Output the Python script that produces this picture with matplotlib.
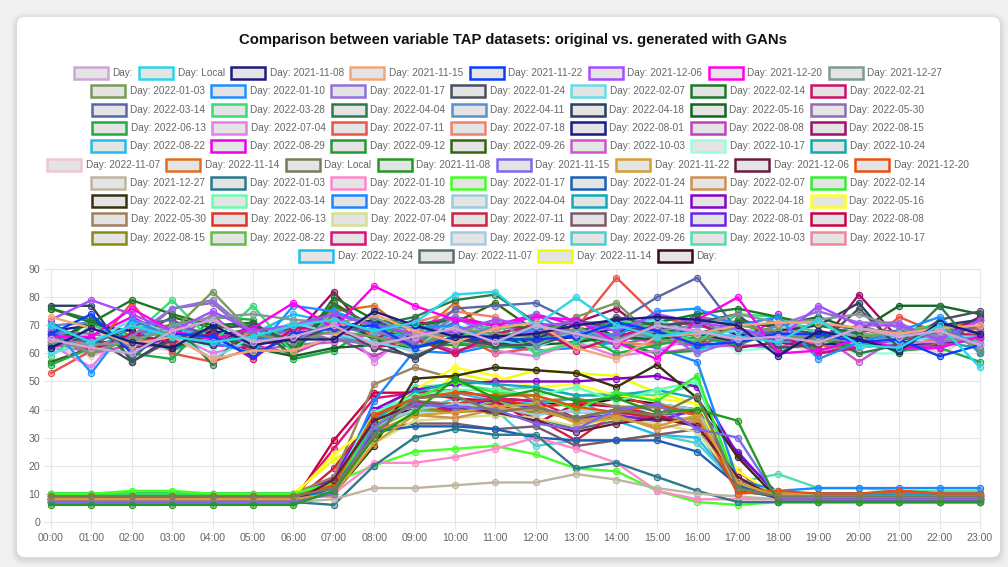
import matplotlib.pyplot as plt
from matplotlib.patches import FancyBboxPatch, Rectangle
from matplotlib.transforms import Affine2D
from matplotlib.colors import to_rgba

plt.rcParams['font.family'] = ['Liberation Sans', 'DejaVu Sans']

W, H = 1008, 567

title = "Comparison between variable TAP datasets: original vs. generated with GANs"

hours = ["00:00", "01:00", "02:00", "03:00", "04:00", "05:00", "06:00", "07:00",
         "08:00", "09:00", "10:00", "11:00", "12:00", "13:00", "14:00", "15:00",
         "16:00", "17:00", "18:00", "19:00", "20:00", "21:00", "22:00", "23:00"]

dates = ["2021-11-08", "2021-11-15", "2021-11-22", "2021-12-06", "2021-12-20", "2021-12-27",
         "2022-01-03", "2022-01-10", "2022-01-17", "2022-01-24", "2022-02-07", "2022-02-14",
         "2022-02-21", "2022-03-14", "2022-03-28", "2022-04-04", "2022-04-11", "2022-04-18",
         "2022-05-16", "2022-05-30", "2022-06-13", "2022-07-04", "2022-07-11", "2022-07-18",
         "2022-08-01", "2022-08-08", "2022-08-15", "2022-08-22", "2022-08-29", "2022-09-12",
         "2022-09-26", "2022-10-03", "2022-10-17", "2022-10-24", "2022-11-07", "2022-11-14"]

original_labels = ["Day:", "Day: Local"] + ["Day: " + d for d in dates]
generated_labels = ["Day: Local"] + ["Day: " + d for d in dates] + ["Day:"]

# original data (flat band)
original_values = [
    [65, 62, 60, 68, 72, 64, 66, 70, 63, 66, 69, 64, 70, 67, 64, 70, 68, 65, 66, 64, 69, 66, 68, 63],
    [70, 64, 70, 66, 64, 66, 70, 72, 68, 71, 81, 82, 70, 80, 70, 66, 68, 66, 64, 72, 63, 62, 70, 55],
    [62, 69, 64, 62, 70, 63, 65, 65, 75, 70, 66, 66, 67, 70, 72, 73, 72, 70, 59, 68, 65, 61, 71, 67],
    [73, 69, 63, 66, 58, 61, 61, 66, 74, 68, 64, 69, 71, 62, 58, 66, 67, 70, 71, 71, 69, 67, 69, 70],
    [67, 74, 60, 67, 66, 59, 67, 69, 70, 62, 66, 65, 65, 66, 71, 68, 63, 64, 67, 67, 64, 65, 59, 63],
    [72, 79, 74, 68, 75, 68, 70, 74, 70, 67, 68, 72, 70, 71, 68, 74, 71, 69, 65, 77, 70, 70, 65, 72],
    [66, 66, 76, 68, 65, 69, 78, 69, 84, 77, 72, 70, 73, 72, 64, 58, 72, 80, 60, 61, 65, 62, 62, 66],
    [64, 63, 64, 70, 73, 74, 72, 71, 73, 66, 67, 72, 63, 69, 65, 68, 70, 74, 71, 72, 74, 69, 66, 63],
    [66, 60, 65, 68, 82, 67, 64, 68, 66, 62, 69, 67, 66, 73, 78, 65, 64, 70, 68, 64, 66, 67, 70, 61],
    [70, 53, 72, 66, 64, 60, 77, 75, 70, 69, 70, 65, 69, 68, 66, 75, 76, 70, 73, 58, 64, 68, 73, 60],
    [69, 60, 66, 76, 79, 67, 64, 72, 68, 64, 73, 66, 68, 67, 65, 69, 60, 65, 70, 75, 71, 71, 64, 66],
    [63, 66, 57, 65, 69, 70, 64, 70, 62, 59, 65, 63, 63, 67, 73, 70, 71, 74, 62, 63, 76, 62, 72, 75],
    [60, 64, 72, 67, 58, 66, 71, 67, 64, 61, 73, 65, 62, 68, 69, 72, 67, 68, 69, 72, 62, 64, 66, 66],
    [76, 71, 79, 74, 70, 71, 59, 80, 72, 70, 72, 70, 69, 67, 70, 71, 74, 76, 73, 70, 67, 60, 72, 61],
    [67, 61, 67, 64, 67, 58, 69, 69, 62, 65, 60, 67, 70, 61, 66, 70, 71, 64, 67, 60, 62, 64, 68, 66],
    [71, 63, 70, 72, 65, 66, 64, 69, 68, 63, 76, 77, 78, 71, 71, 80, 87, 68, 67, 67, 68, 68, 66, 70],
    [59, 70, 66, 79, 64, 77, 60, 75, 69, 71, 65, 71, 60, 64, 72, 69, 64, 74, 73, 67, 66, 68, 70, 64],
    [76, 72, 58, 71, 56, 71, 62, 77, 70, 73, 79, 81, 71, 68, 71, 70, 71, 74, 60, 67, 60, 63, 77, 60],
    [70, 71, 62, 68, 72, 64, 70, 67, 62, 68, 73, 68, 74, 66, 67, 66, 70, 68, 64, 65, 66, 65, 67, 63],
    [77, 77, 57, 66, 63, 70, 64, 74, 65, 58, 66, 63, 65, 72, 68, 69, 67, 64, 68, 70, 78, 61, 70, 72],
    [63, 72, 64, 62, 67, 62, 59, 62, 63, 62, 65, 65, 63, 64, 66, 65, 67, 71, 70, 73, 68, 77, 77, 74],
    [68, 67, 64, 76, 78, 66, 68, 65, 63, 68, 64, 70, 67, 68, 66, 69, 73, 71, 67, 66, 70, 66, 65, 68],
    [56, 62, 60, 58, 73, 72, 58, 61, 70, 66, 64, 62, 63, 68, 60, 63, 66, 63, 68, 61, 64, 61, 62, 57],
    [63, 55, 72, 67, 60, 64, 68, 74, 57, 69, 70, 61, 59, 64, 59, 61, 66, 65, 70, 68, 66, 64, 64, 72],
    [53, 61, 78, 60, 57, 62, 69, 71, 68, 64, 67, 60, 62, 69, 87, 73, 70, 68, 67, 63, 61, 73, 67, 69],
    [65, 63, 65, 63, 65, 67, 64, 73, 66, 71, 75, 73, 66, 70, 64, 63, 66, 64, 70, 65, 68, 63, 65, 64],
    [68, 70, 68, 62, 68, 66, 69, 69, 72, 65, 67, 66, 64, 66, 69, 68, 70, 67, 65, 63, 64, 63, 64, 65],
    [62, 65, 67, 70, 67, 63, 60, 66, 59, 65, 61, 64, 71, 65, 66, 64, 63, 67, 64, 66, 63, 64, 62, 72],
    [67, 65, 62, 64, 68, 60, 66, 82, 65, 72, 67, 63, 62, 71, 76, 65, 74, 62, 64, 62, 81, 65, 66, 73],
    [69, 63, 66, 69, 66, 67, 74, 71, 66, 67, 70, 63, 65, 66, 67, 73, 61, 66, 67, 65, 67, 66, 71, 67],
    [64, 66, 73, 66, 63, 62, 68, 67, 71, 70, 73, 70, 74, 70, 63, 71, 68, 62, 74, 60, 63, 62, 65, 73],
    [61, 72, 66, 63, 66, 69, 62, 72, 65, 63, 63, 63, 66, 68, 64, 60, 61, 72, 66, 65, 62, 64, 64, 65],
    [57, 62, 65, 73, 69, 71, 61, 78, 69, 65, 71, 78, 68, 72, 66, 67, 63, 72, 69, 67, 65, 62, 63, 67],
    [64, 60, 63, 64, 74, 61, 63, 64, 67, 62, 68, 67, 66, 73, 64, 60, 62, 63, 62, 67, 57, 66, 62, 68],
    [65, 64, 63, 66, 62, 67, 62, 66, 65, 72, 70, 67, 72, 64, 62, 63, 67, 61, 62, 64, 60, 60, 66, 66],
    [66, 62, 67, 61, 67, 65, 67, 65, 67, 72, 67, 64, 66, 67, 63, 66, 66, 65, 70, 66, 63, 67, 64, 62],
    [62, 59, 63, 61, 65, 66, 69, 67, 66, 60, 64, 68, 60, 65, 67, 64, 66, 63, 63, 61, 65, 66, 60, 67],
    [65, 61, 69, 70, 66, 68, 70, 75, 77, 66, 78, 65, 67, 63, 62, 64, 63, 72, 69, 70, 69, 65, 69, 72],
]

# generated data (daytime bump)
generated_values = [
    [9, 9, 9, 9, 9, 9, 9, 12, 31, 44, 45, 39, 41, 37, 40, 38, 45, 12, 9, 9, 9, 9, 9, 9],
    [6, 6, 6, 6, 6, 6, 6, 11, 30, 39, 51, 44, 47, 43, 44, 39, 40, 36, 7, 7, 7, 7, 7, 7],
    [7, 7, 7, 7, 7, 7, 7, 10, 34, 42, 41, 40, 35, 33, 40, 42, 33, 30, 8, 8, 8, 8, 8, 8],
    [8, 8, 8, 8, 8, 8, 8, 10, 28, 38, 39, 41, 42, 35, 37, 34, 38, 14, 9, 9, 9, 9, 9, 9],
    [7, 7, 7, 7, 7, 7, 7, 15, 36, 42, 41, 39, 36, 32, 35, 37, 34, 16, 8, 8, 8, 8, 8, 8],
    [9, 9, 9, 9, 9, 9, 9, 13, 38, 44, 46, 45, 45, 41, 39, 42, 38, 10, 11, 10, 10, 11, 10, 10],
    [7, 7, 7, 7, 7, 7, 7, 8, 12, 12, 13, 14, 14, 17, 15, 12, 10, 9, 8, 7, 7, 7, 7, 7],
    [7, 7, 7, 7, 7, 7, 7, 6, 20, 30, 33, 31, 31, 19, 21, 16, 11, 7, 7, 7, 7, 7, 7, 7],
    [8, 8, 8, 8, 8, 8, 8, 10, 21, 21, 23, 26, 30, 26, 21, 11, 8, 8, 8, 8, 8, 8, 8, 8],
    [10, 10, 11, 11, 10, 10, 10, 14, 20, 25, 26, 27, 24, 19, 18, 11, 7, 6, 7, 7, 7, 7, 7, 7],
    [8, 8, 8, 8, 8, 8, 8, 12, 32, 34, 34, 33, 30, 29, 29, 29, 25, 13, 8, 8, 8, 8, 8, 8],
    [9, 9, 9, 9, 9, 9, 9, 9, 32, 38, 37, 40, 40, 36, 38, 33, 36, 14, 10, 9, 9, 9, 9, 9],
    [10, 10, 10, 10, 10, 10, 10, 13, 34, 44, 50, 46, 45, 40, 46, 43, 52, 12, 9, 8, 8, 8, 8, 8],
    [8, 8, 9, 9, 8, 8, 8, 10, 27, 51, 52, 55, 54, 53, 48, 56, 44, 23, 8, 8, 7, 7, 7, 7],
    [7, 7, 7, 7, 7, 7, 7, 14, 39, 45, 47, 47, 45, 48, 43, 47, 50, 13, 11, 9, 9, 9, 9, 9],
    [10, 10, 10, 10, 10, 10, 10, 10, 43, 61, 60, 63, 61, 62, 64, 62, 57, 15, 11, 12, 12, 12, 12, 12],
    [9, 9, 9, 9, 9, 9, 9, 11, 34, 40, 42, 41, 38, 40, 39, 42, 40, 12, 9, 9, 9, 9, 9, 9],
    [9, 9, 9, 9, 9, 9, 9, 12, 36, 46, 50, 49, 48, 45, 45, 47, 44, 14, 10, 10, 10, 10, 10, 10],
    [8, 8, 8, 8, 8, 8, 8, 14, 40, 47, 49, 50, 50, 50, 51, 52, 48, 24, 10, 10, 10, 10, 10, 10],
    [9, 9, 9, 9, 9, 9, 9, 24, 35, 47, 55, 52, 48, 49, 45, 44, 42, 18, 9, 9, 9, 9, 9, 9],
    [10, 10, 10, 10, 10, 10, 10, 16, 49, 55, 51, 49, 43, 44, 41, 41, 38, 12, 10, 9, 9, 9, 9, 9],
    [9, 9, 9, 9, 9, 9, 9, 12, 36, 42, 42, 44, 41, 42, 45, 41, 38, 11, 10, 10, 10, 11, 10, 10],
    [8, 8, 8, 8, 8, 8, 8, 12, 28, 36, 37, 38, 37, 34, 37, 35, 32, 14, 9, 9, 9, 9, 9, 9],
    [7, 7, 7, 7, 7, 7, 7, 19, 38, 43, 39, 42, 37, 29, 39, 37, 35, 14, 9, 9, 8, 8, 8, 8],
    [9, 9, 9, 9, 9, 9, 9, 11, 33, 35, 35, 33, 34, 27, 29, 31, 33, 11, 9, 9, 9, 9, 9, 9],
    [8, 8, 8, 8, 8, 8, 8, 16, 40, 42, 40, 44, 40, 37, 38, 36, 40, 25, 9, 8, 8, 8, 8, 8],
    [7, 7, 7, 7, 7, 7, 7, 29, 46, 46, 44, 43, 35, 42, 41, 38, 34, 18, 8, 8, 8, 8, 8, 8],
    [8, 8, 8, 8, 8, 8, 8, 13, 38, 41, 39, 40, 39, 37, 40, 37, 35, 13, 9, 9, 9, 9, 9, 9],
    [10, 10, 10, 10, 10, 10, 10, 15, 33, 40, 39, 43, 40, 37, 37, 36, 37, 11, 9, 9, 9, 9, 9, 9],
    [8, 8, 8, 8, 8, 8, 8, 26, 44, 46, 47, 44, 43, 37, 40, 41, 39, 15, 8, 8, 8, 8, 8, 8],
    [9, 9, 9, 9, 9, 9, 9, 12, 36, 39, 40, 42, 40, 39, 38, 41, 39, 13, 9, 9, 9, 9, 9, 9],
    [8, 8, 8, 8, 8, 8, 8, 13, 37, 39, 44, 40, 27, 29, 29, 31, 28, 13, 10, 9, 9, 9, 9, 9],
    [8, 8, 8, 8, 8, 8, 8, 14, 38, 48, 49, 47, 48, 45, 46, 45, 49, 14, 17, 12, 12, 11, 11, 11],
    [8, 8, 8, 8, 8, 8, 8, 13, 35, 42, 42, 41, 40, 36, 37, 38, 36, 12, 9, 9, 9, 9, 9, 9],
    [10, 10, 10, 10, 10, 10, 10, 15, 39, 44, 46, 43, 42, 44, 36, 31, 30, 12, 9, 9, 9, 9, 9, 9],
    [8, 8, 8, 8, 8, 8, 8, 12, 33, 43, 42, 38, 37, 33, 36, 38, 39, 12, 9, 9, 9, 9, 9, 9],
    [10, 10, 10, 10, 10, 10, 10, 22, 31, 39, 53, 50, 54, 53, 52, 46, 42, 13, 9, 9, 9, 9, 9, 9],
    [8, 8, 8, 8, 8, 8, 8, 12, 37, 40, 42, 44, 43, 41, 44, 42, 40, 15, 8, 8, 8, 8, 8, 8],
]

original_colors = [
    "#cfa6d6", "#2dd4e6", "#1c1c80", "#f4a67a", "#0a3cff", "#a64dff", "#ff00ee", "#7f9a94",
    "#7a9a5a", "#1e90ff", "#9370db", "#4a5060", "#66dde8", "#1a7a2a", "#cc1166",
    "#5a66a8", "#33dd77", "#2e7a4a", "#5b8fcc", "#2a4060", "#116622", "#8a6fb8",
    "#22aa44", "#e080e8", "#e85548", "#f08070", "#1a1a88", "#c040c0", "#a0106a",
    "#22bbee", "#ee00ee", "#229933", "#336611", "#cc55cc", "#99ffdd", "#11aaaa",
    "#eec8d0", "#e07020",
]

generated_colors = [
    "#7a7a5a", "#229922", "#7b68ee", "#d4a030", "#6a1a40", "#e85010", "#bdb5a0",
    "#2a7a8a", "#ff88cc", "#44ff22", "#1a5fb4", "#d09050", "#33ee33",
    "#3a3010", "#66ffaa", "#1a88ff", "#99ccdd", "#11aabb", "#8800cc", "#ffff22",
    "#a08060", "#dd3322", "#d8e090", "#cc2244", "#7a5a6a", "#6622ee", "#cc0044",
    "#8a8a10", "#66bb44", "#dd1177", "#a8c8e8", "#55cccc", "#55ddaa", "#ee8899",
    "#22bbee", "#5a7070", "#eeff00", "#3a0a10",
]

labels = original_labels + generated_labels
values = original_values + generated_values
colors = original_colors + generated_colors

fig = plt.figure(figsize=(W / 100, H / 100), dpi=100)
fig.patch.set_facecolor("#f0f0f0")
# pixel coords, origin top-left
px = Affine2D().scale(1 / W, -1 / H).translate(0, 1) + fig.transFigure

# card with soft shadow (kept behind the axes)
for k, a in [(6, 0.02), (4, 0.03), (2, 0.04)]:
    fig.add_artist(FancyBboxPatch((17 - k, 17 - k + 2), 983 + 2 * k, 540 + 2 * k,
                                  boxstyle="round,pad=0,rounding_size=%d" % (8 + k),
                                  fc=(0, 0, 0, a), ec="none", transform=px, zorder=-10))
fig.add_artist(FancyBboxPatch((17, 17), 983, 540, boxstyle="round,pad=0,rounding_size=8",
                              fc="white", ec="none", transform=px, zorder=-9))

fig.text(513, 40, title, transform=px, ha="center", va="center",
         fontsize=10.7, fontweight="bold", color="#111111")

# legend, chart.js style rows
renderer = fig.canvas.get_renderer()
row_sizes = [8, 7, 7, 7, 7, 8, 7, 7, 7, 7, 4]
box_w, box_h, gap, space = 34, 12, 4.5, 6.5
idx = 0
for r, n in enumerate(row_sizes):
    y = 73 + 18.3 * r
    texts, widths = [], []
    for j in range(n):
        t = fig.text(0, y, labels[idx + j], transform=px, ha="left", va="center",
                     fontsize=7.2, color="#666666")
        texts.append(t)
        widths.append(t.get_window_extent(renderer).width)
    total = sum(box_w + gap + w for w in widths) + space * (n - 1)
    x = 508 - total / 2
    for j in range(n):
        fig.add_artist(Rectangle((x, y - box_h / 2), box_w, box_h, fc="#e4e4e4",
                                 ec=colors[idx + j], lw=1.8, transform=px))
        texts[j].set_x(x + box_w + gap)
        x += box_w + gap + widths[j] + space
    idx += n

ax = fig.add_axes([51 / W, 1 - 521.7 / H, 929 / W, 252.4 / H])
ax.set_facecolor("none")
ax.set_xlim(0, 23)
ax.set_ylim(0, 90)
ax.set_xticks(range(len(hours)))
ax.set_xticklabels(hours)
ax.set_yticks(range(0, 91, 10))
ax.grid(True, color="#e6e6e6", lw=0.8, zorder=0)
ax.set_axisbelow(True)
for s in ax.spines.values():
    s.set_color("#e6e6e6")
    s.set_linewidth(0.8)
ax.tick_params(length=5, width=0.8, color="#e6e6e6", labelcolor="#666666",
               labelsize=7.6, pad=3)

x = list(range(len(hours)))
n_series = len(values)
# first dataset drawn on top
for i in reversed(range(n_series)):
    c = colors[i]
    ax.plot(x, values[i], color=c, lw=1.7, marker="o", ms=4.5,
            mfc=to_rgba(c, 0.45), mec=c, mew=0.8, zorder=3 + (n_series - i) * 0.01,
            clip_on=False)

fig.savefig("out.png", dpi=100, facecolor=fig.get_facecolor())
